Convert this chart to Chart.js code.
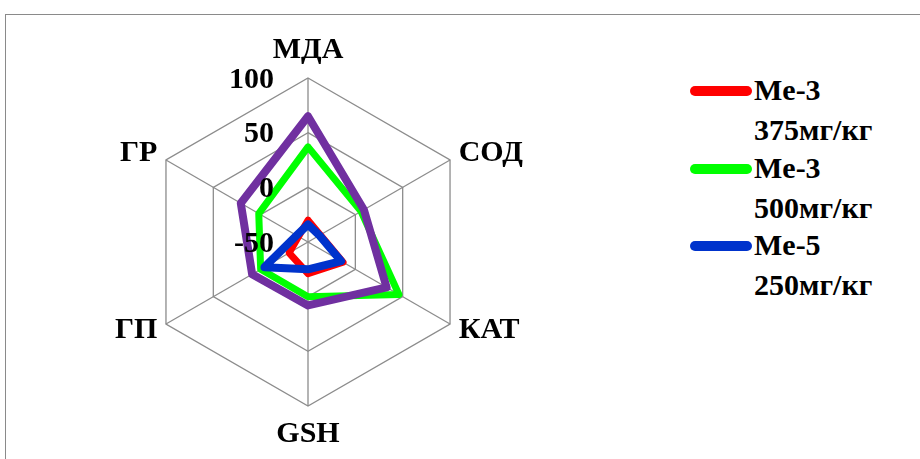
<!DOCTYPE html>
<html>
<head>
<meta charset="utf-8">
<script src="https://cdn.jsdelivr.net/npm/chart.js@4/dist/chart.umd.min.js"></script>
<style>
    html, body {
        margin: 0;
        padding: 0;
        background: #fff;
        width: 920px;
        height: 459px;
        overflow: hidden;
        font-family: 'Liberation Serif', 'Times New Roman', serif;
    }
    .frame {
        position: absolute;
        left: 5px;
        top: 14px;
        width: 940px;
        height: 470px;
        border: 1.5px solid #8a8a8a;
    }
    .chart-box {
        position: absolute;
        left: 48px;
        top: 32px;
        width: 520px;
        height: 420px;
    }
    .legend-item {
        position: absolute;
        left: 690px;
    }
    .legend-line {
        position: absolute;
        left: 0;
        width: 62px;
        height: 10px;
        border-radius: 5px;
    }
    .legend-text {
        position: absolute;
        left: 64px;
        top: 0;
        font-size: 30px;
        font-weight: bold;
        line-height: 40px;
        white-space: nowrap;
        color: #000;
    }
</style>
</head>
<body>
<div class="frame"></div>
<div class="chart-box"><canvas id="radarChart"></canvas></div>
<div id="legend"></div>

<script>
// Axes and ticks
const axes = ['МДА', 'СОД', 'КАТ', 'GSH', 'ГП', 'ГР'];
const tickValues = [-50, 0, 50, 100];

// Series values, in axis order
const me3_375 = [-30, -37, -13, -21, -30, -40];
const me3_500 = [37, 6, 46, 0, 0, 2];
const me5_250 = [-34, -38, -15, -25, -4, -38];
const me5_500 = [65, 9, 33, 8, 9, 21];

const series = [
    { name: ['Me-3', '375мг/кг'], data: me3_375, color: '#ff0000', width: 7, order: 4, legend: true },
    { name: ['Me-3', '500мг/кг'], data: me3_500, color: '#00ff00', width: 7, order: 3, legend: true },
    { name: ['Me-5', '250мг/кг'], data: me5_250, color: '#0033cc', width: 8, order: 2, legend: true },
    { name: ['Me-5', '500мг/кг'], data: me5_500, color: '#7030a0', width: 8, order: 1, legend: false }
];

const serif = "'Liberation Serif', 'Times New Roman', serif";

// Tick numbers sit left of the vertical axis, over the lines
const tickLabelsPlugin = {
    id: 'tickLabels',
    afterDatasetsDraw(chart) {
        const scale = chart.scales.r;
        const ctx = chart.ctx;
        ctx.save();
        ctx.font = 'bold 30px ' + serif;
        ctx.fillStyle = '#000';
        ctx.textAlign = 'right';
        ctx.textBaseline = 'middle';
        tickValues.forEach(v => {
            const d = scale.getDistanceFromCenterForValue(v);
            ctx.fillText(String(v), scale.xCenter - 34, scale.yCenter - d + 2);
        });
        ctx.restore();
    }
};

const ctx = document.getElementById('radarChart');
new Chart(ctx, {
    type: 'radar',
    data: {
        labels: axes,
        datasets: series.map(s => ({
            label: s.name.join(' '),
            data: s.data,
            borderColor: s.color,
            backgroundColor: s.color,
            borderWidth: s.width,
            borderJoinStyle: 'round',
            fill: false,
            pointRadius: 0,
            pointHoverRadius: 0,
            tension: 0,
            order: s.order
        }))
    },
    options: {
        responsive: true,
        maintainAspectRatio: false,
        animation: false,
        events: [],
        plugins: {
            legend: { display: false },
            tooltip: { enabled: false }
        },
        scales: {
            r: {
                min: -50,
                max: 100,
                ticks: {
                    display: false,
                    stepSize: 50
                },
                grid: {
                    color: '#8c8c8c',
                    lineWidth: 1.3
                },
                angleLines: {
                    color: '#8c8c8c',
                    lineWidth: 1.3
                },
                pointLabels: {
                    color: '#000',
                    padding: 10,
                    font: (c) => ({
                        family: serif,
                        size: 30,
                        weight: 'bold',
                        // side labels are centred on their vertex
                        lineHeight: (c.index % 3 === 0) ? 1.2 : 0.1
                    })
                }
            }
        }
    },
    plugins: [tickLabelsPlugin]
});

// Legend (the last series is not listed)
const legend = document.getElementById('legend');
const legendTops = [70, 148, 225];
series.filter(s => s.legend).forEach((s, i) => {
    const item = document.createElement('div');
    item.className = 'legend-item';
    item.style.top = legendTops[i] + 'px';
    const line = document.createElement('div');
    line.className = 'legend-line';
    line.style.background = s.color;
    line.style.top = '16px';
    const text = document.createElement('div');
    text.className = 'legend-text';
    text.innerHTML = s.name.join('<br>');
    item.appendChild(line);
    item.appendChild(text);
    legend.appendChild(item);
});
</script>
</body>
</html>
